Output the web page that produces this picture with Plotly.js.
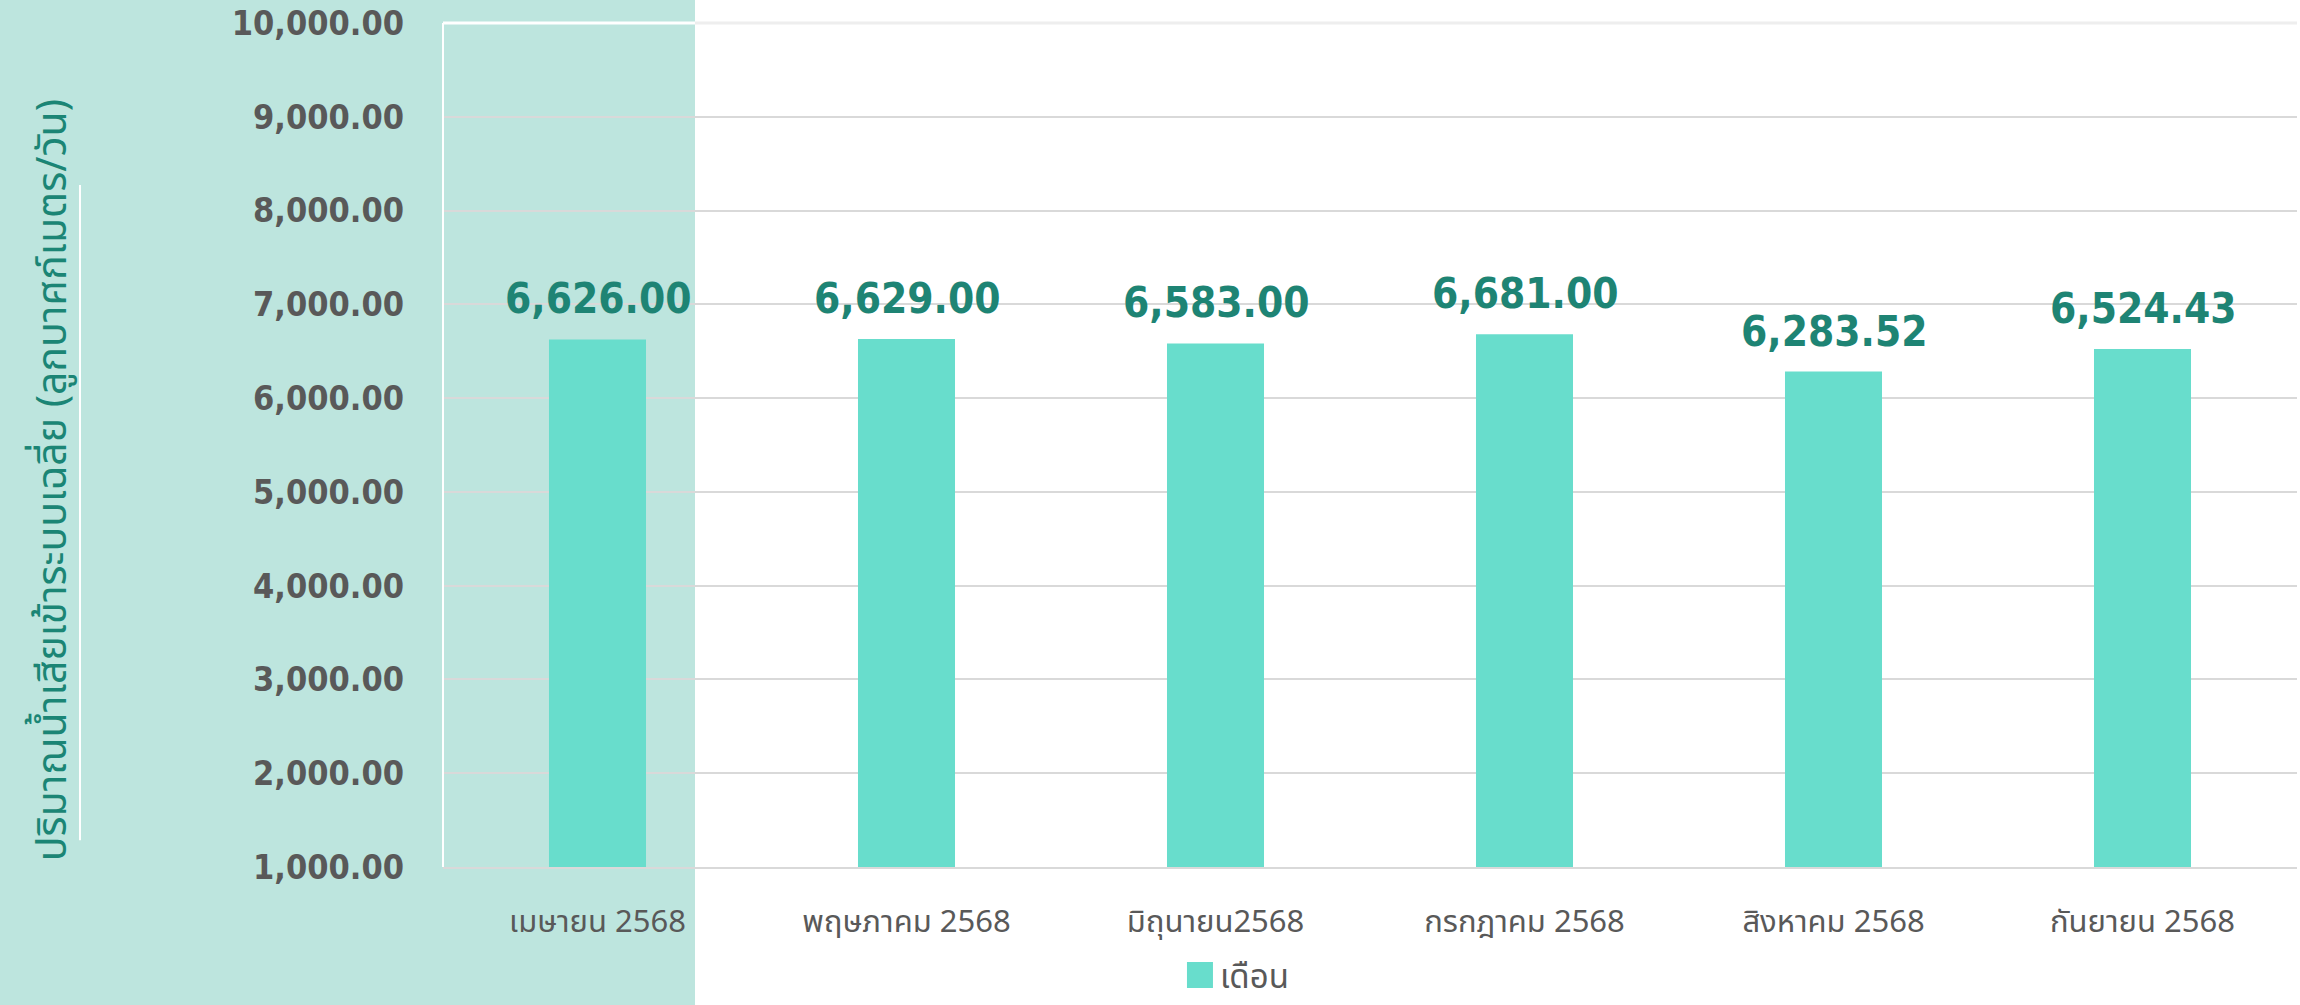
<!DOCTYPE html>
<html><head><meta charset="utf-8">
<script src="https://cdn.plot.ly/plotly-3.0.1.min.js"></script>
<style>html,body{margin:0;padding:0;background:#fff;overflow:hidden}#chart{width:2300px;height:1005px}</style>
</head><body><div id="chart"></div>
<script>
const months = ['เมษายน 2568','พฤษภาคม 2568','มิถุนายน2568','กรกฎาคม 2568','สิงหาคม 2568','กันยายน 2568'];
const values = [6626.00, 6629.00, 6583.00, 6681.00, 6283.52, 6524.43];
const yTickVals = [1000,2000,3000,4000,5000,6000,7000,8000,9000,10000];
const seriesName = 'เดือน';
const yTitle = 'ปริมาณน้ำเสียเข้าระบบเฉลี่ย (ลูกบาศก์เมตร/วัน)';

const thaiFont = "'Noto Sans Thai', 'Noto Sans', sans-serif";
const numFont = "'DejaVu Sans Condensed', 'DejaVu Sans', sans-serif";
const fmt = v => v.toLocaleString('en-US', {minimumFractionDigits: 2, maximumFractionDigits: 2});

const trace = {
  type: 'bar', x: months, y: values, name: seriesName,
  marker: {color: '#68ddcc', line: {width: 0}},
  hoverinfo: 'skip', showlegend: true
};

const labelAnns = months.map((m, i) => ({
  x: m, y: values[i], xref: 'x', yref: 'y', text: fmt(values[i]),
  showarrow: false, yanchor: 'bottom', xanchor: 'center', yshift: 14,
  font: {family: numFont, size: 42, color: '#1e8474', weight: 700}
}));

const layout = {
  width: 2300, height: 1005,
  margin: {l: 443, r: 3, t: 23, b: 138, autoexpand: false},
  paper_bgcolor: '#ffffff', plot_bgcolor: 'rgba(0,0,0,0)',
  bargap: 0.686,
  showlegend: true,
  legend: {orientation: 'h', x: 0.3975, y: -0.128, xanchor: 'left', yanchor: 'middle',
    font: {family: thaiFont, size: 33, color: '#595959'}, bgcolor: 'rgba(0,0,0,0)'},
  xaxis: {
    type: 'category', showgrid: false, showline: true, linecolor: '#d9d9d9', linewidth: 2,
    ticks: '', ticklabelstandoff: 26,
    tickfont: {family: thaiFont, size: 31, color: '#595959'}, fixedrange: true
  },
  yaxis: {
    range: [1000, 10000], tickvals: yTickVals, tickformat: ',.2f',
    showgrid: true, gridcolor: '#d9d9d9', gridwidth: 2, zeroline: false, showline: false,
    ticks: '', ticklabelstandoff: 38,
    tickfont: {family: numFont, size: 34, color: '#595959', weight: 700}, fixedrange: true
  },
  shapes: [
    {type: 'rect', xref: 'paper', yref: 'paper', x0: -0.23894, x1: 0.13592, y0: -0.17, y1: 1.03,
      fillcolor: '#bde5de', line: {width: 0}, layer: 'below'},
    {type: 'line', xref: 'paper', yref: 'paper', x0: 0.13592, x1: 1, y0: 1, y1: 1,
      line: {color: '#eeeeee', width: 3}, layer: 'above'},
    {type: 'line', xref: 'paper', yref: 'paper', x0: 0, x1: 0.13592, y0: 1, y1: 1,
      line: {color: '#ffffff', width: 3}, layer: 'above'},
    {type: 'line', xref: 'paper', yref: 'paper', x0: 0, x1: 0, y0: 0, y1: 1,
      line: {color: '#ffffff', width: 2}, layer: 'above'},
    {type: 'line', xref: 'paper', yref: 'paper', x0: -0.1958, x1: -0.1958, y0: 0.0316, y1: 0.808,
      line: {color: '#ffffff', width: 2}, layer: 'above'}
  ],
  annotations: labelAnns.concat([{
    xref: 'paper', yref: 'paper', x: -0.2103, y: 0.4583, xanchor: 'center', yanchor: 'middle',
    text: yTitle, textangle: -90, showarrow: false,
    font: {family: thaiFont, size: 41, color: '#1b8575'}
  }])
};

Plotly.newPlot('chart', [trace], layout, {displayModeBar: false, staticPlot: true}).then(() => {
  document.querySelectorAll('.legend .legendpoints path').forEach(p => {
    p.setAttribute('d', 'M13,13H-13V-13H13Z');
  });
});
</script>
</body></html>
